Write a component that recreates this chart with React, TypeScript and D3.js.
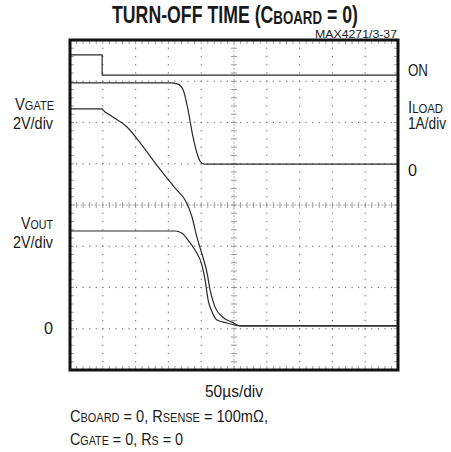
import React, { useLayoutEffect, useRef, useState } from "react";
import * as d3 from "d3";

// Traces in scope divisions: x 0..10 (50µs/div), y 0..8 from bottom
const onX = [0, 0.98, 0.98, 10];
const onY = [7.64, 7.64, 7.15, 7.15];

const iloadX = [0, 3.05, 3.29, 3.45, 3.6, 3.75, 3.87, 3.96, 4.09, 10];
const iloadY = [6.96, 6.96, 6.93, 6.79, 6.3, 5.65, 5.26, 5.07, 4.99, 4.99];

const vgateX = [0, 0.98, 1.01, 1.22, 1.74, 2.23, 2.74, 3.26, 3.51, 3.72, 3.87, 4.05, 4.18, 4.27, 4.42, 4.66, 4.94, 5.18, 10];
const vgateY = [6.33, 6.33, 6.3, 6.18, 5.89, 5.41, 4.87, 4.36, 4.12, 3.71, 3.22, 2.74, 2.35, 1.94, 1.53, 1.28, 1.16, 1.07, 1.07];

const voutX = [0, 3.2, 3.41, 3.6, 3.81, 4.02, 4.12, 4.21, 4.33, 4.48, 4.79, 5.18, 10];
const voutY = [3.37, 3.37, 3.32, 3.15, 2.91, 2.55, 2.18, 1.7, 1.41, 1.21, 1.14, 1.07, 1.07];

const xDivs = d3.range(0, 11);
const yDivs = d3.range(0, 9);

const FONT = "'Liberation Sans', Arial, sans-serif";

// text horizontally scaled to fit a target width (condensed look)
function Fit({ x, y, w, size, bold, children }: { x: number; y: number; w: number; size: number; bold?: boolean; children: React.ReactNode }) {
  const ref = useRef<SVGTextElement>(null);
  const [sx, setSx] = useState(0.8);
  useLayoutEffect(() => {
    if (ref.current) {
      const nat = ref.current.getComputedTextLength();
      if (nat > 0) setSx(w / nat);
    }
  }, [w]);
  return (
    <g transform={`translate(${x},${y}) scale(${sx},1)`}>
      <text ref={ref} x={0} y={0} fontFamily={FONT} fontWeight={bold ? "bold" : "normal"} fontSize={size} fill="#1a1a1a">
        {children}
      </text>
    </g>
  );
}

export default function App() {
  const L = 70, R = 398, T = 40, B = 370;
  const x = d3.scaleLinear().domain([0, 10]).range([L, R]);
  const y = d3.scaleLinear().domain([0, 8]).range([B, T]);

  const mk = (xs: number[], ys: number[], curve: any) =>
    d3.line<number>().x((_, i) => x(xs[i])).y((_, i) => y(ys[i])).curve(curve)(xs.map((v) => v)) || "";

  const minorX = d3.range(0, 50.001, 1).map((v) => v / 5);
  const minorY = d3.range(0, 40.001, 1).map((v) => v / 5);

  const dots: React.ReactNode[] = [];
  xDivs.slice(1, 10).forEach((xv) => {
    if (xv === 5) return;
    minorY.forEach((yv, j) => {
      dots.push(<rect key={`v${xv}-${j}`} x={x(xv) - 0.6} y={y(yv) - 0.6} width={1.2} height={1.2} fill="#777" />);
    });
  });
  yDivs.slice(1, 8).forEach((yv) => {
    if (yv === 4) return;
    minorX.forEach((xv, j) => {
      dots.push(<rect key={`h${yv}-${j}`} x={x(xv) - 0.6} y={y(yv) - 0.6} width={1.2} height={1.2} fill="#777" />);
    });
  });

  const ticks: React.ReactNode[] = [];
  minorX.forEach((xv, j) => {
    ticks.push(<line key={`ct${j}`} x1={x(xv)} x2={x(xv)} y1={y(4) - 3} y2={y(4) + 3} stroke="#888" strokeWidth={0.8} />);
    ticks.push(<line key={`tt${j}`} x1={x(xv)} x2={x(xv)} y1={T} y2={T + 4} stroke="#888" strokeWidth={0.8} />);
    ticks.push(<line key={`bt${j}`} x1={x(xv)} x2={x(xv)} y1={B} y2={B - 4} stroke="#888" strokeWidth={0.8} />);
  });
  minorY.forEach((yv, j) => {
    ticks.push(<line key={`cv${j}`} x1={x(5) - 3} x2={x(5) + 3} y1={y(yv)} y2={y(yv)} stroke="#888" strokeWidth={0.8} />);
    ticks.push(<line key={`lt${j}`} x1={L} x2={L + 4} y1={y(yv)} y2={y(yv)} stroke="#888" strokeWidth={0.8} />);
    ticks.push(<line key={`rt${j}`} x1={R} x2={R - 4} y1={y(yv)} y2={y(yv)} stroke="#888" strokeWidth={0.8} />);
  });

  const traceStyle = { fill: "none", stroke: "#2a2a2a", strokeWidth: 1.2 };
  const S = 16, SUB = 12;

  return (
    <svg width={451} height={452} style={{ position: "absolute", left: 0, top: 0, background: "#fff" }}>
      <rect width={451} height={452} fill="#fff" />
      <Fit x={112} y={23} w={246} size={24} bold>
        TURN-OFF TIME (C<tspan fontSize={18} dy={1}>BOARD</tspan><tspan dy={-1}> = 0)</tspan>
      </Fit>
      <Fit x={315} y={38} w={82} size={10}>MAX4271/3-37</Fit>

      {dots}
      <line x1={L} x2={R} y1={y(4)} y2={y(4)} stroke="#999" strokeWidth={0.8} strokeDasharray="2,1.5" />
      <line x1={x(5)} x2={x(5)} y1={T} y2={B} stroke="#999" strokeWidth={0.8} strokeDasharray="2,1.5" />
      {ticks}

      <path d={mk(onX, onY, d3.curveLinear)} {...traceStyle} />
      <path d={mk(iloadX, iloadY, d3.curveMonotoneX)} {...traceStyle} />
      <path d={mk(vgateX, vgateY, d3.curveMonotoneX)} {...traceStyle} />
      <path d={mk(voutX, voutY, d3.curveMonotoneX)} {...traceStyle} />

      <rect x={L} y={T} width={R - L} height={B - T} fill="none" stroke="#111" strokeWidth={3} />

      <Fit x={15} y={110} w={39} size={S}>V<tspan fontSize={SUB}>GATE</tspan></Fit>
      <Fit x={13} y={129} w={40} size={S}>2V/div</Fit>
      <Fit x={21} y={229} w={32} size={S}>V<tspan fontSize={SUB}>OUT</tspan></Fit>
      <Fit x={13} y={248} w={40} size={S}>2V/div</Fit>
      <Fit x={44} y={334} w={9} size={S}>0</Fit>

      <Fit x={408} y={76} w={20} size={S}>ON</Fit>
      <Fit x={408} y={113} w={35} size={S}>I<tspan fontSize={SUB}>LOAD</tspan></Fit>
      <Fit x={408} y={129} w={38} size={S}>1A/div</Fit>
      <Fit x={408} y={176} w={9} size={S}>0</Fit>

      <Fit x={205} y={397} w={58} size={S}>50µs/div</Fit>
      <Fit x={70} y={422} w={198} size={S}>
        C<tspan fontSize={SUB}>BOARD</tspan> = 0, R<tspan fontSize={SUB}>SENSE</tspan> = 100mΩ,
      </Fit>
      <Fit x={70} y={445} w={113} size={S}>
        C<tspan fontSize={SUB}>GATE</tspan> = 0, R<tspan fontSize={SUB}>S</tspan> = 0
      </Fit>
    </svg>
  );
}
